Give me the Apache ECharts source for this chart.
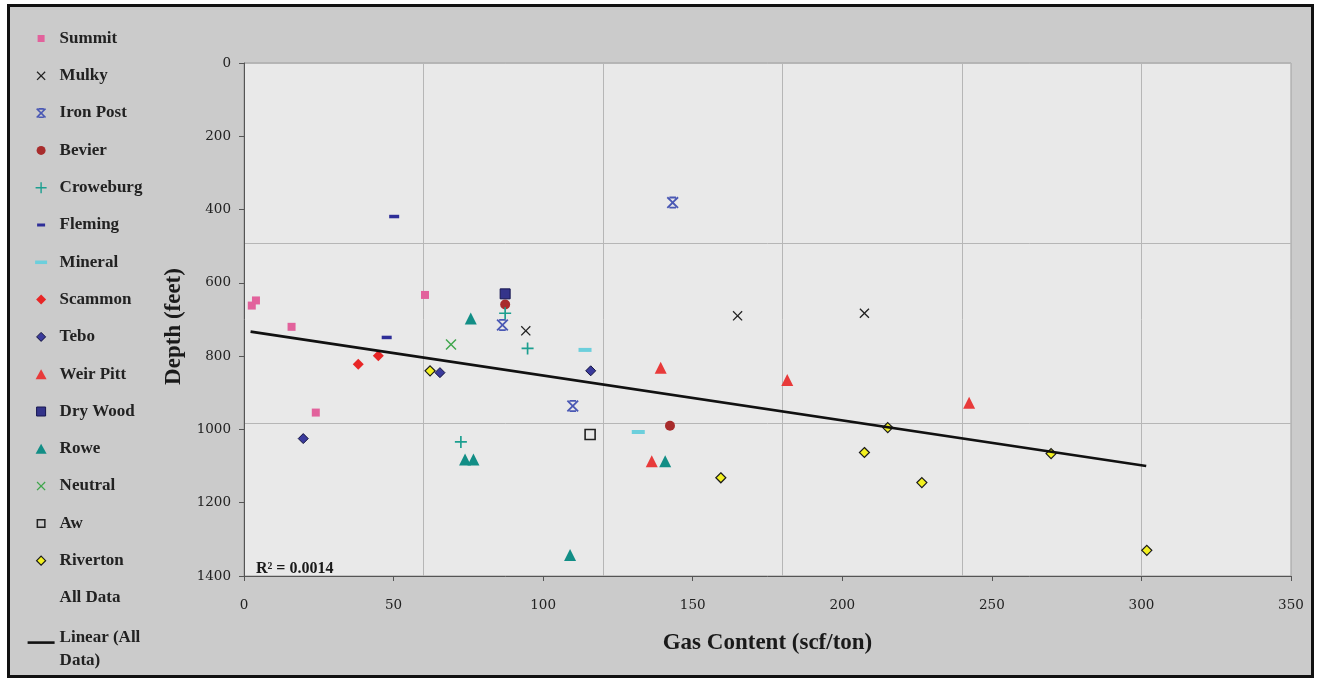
<!DOCTYPE html>
<html><head><meta charset="utf-8">
<script src="https://cdn.jsdelivr.net/npm/echarts@6/dist/echarts.min.js"></script>
<style>html,body{margin:0;padding:0;background:#fff}#c{width:1320px;height:678px}</style>
</head><body><div id="c"></div><script>
// ---- data (gas content scf/ton, depth feet) ----
const summit    = [[2.6,662],[4.0,648],[15.9,720],[24.0,954],[60.5,633]];
const mulky     = [[94.2,731],[165.0,690],[207.4,683]];
const ironPost  = [[86.4,715],[109.9,936],[143.3,381]];
const bevier    = [[87.3,659],[142.4,990]];
const croweburg = [[72.5,1034],[87.3,683],[94.8,779]];
const fleming   = [[47.7,749],[50.2,419]];
const mineral   = [[114.0,783],[131.8,1007]];
const scammon   = [[38.2,822],[44.9,799]];
const tebo      = [[19.8,1025],[65.5,845],[115.9,840]];
const weirPitt  = [[136.3,1087],[139.3,832],[181.6,865],[242.4,927]];
const dryWood   = [[87.3,630]];
const rowe      = [[73.9,1082],[76.7,1082],[75.8,697],[109.0,1343],[140.8,1087]];
const neutral   = [[69.2,768]];
const aw        = [[115.7,1014]];
const riverton  = [[62.2,840],[159.4,1132],[207.4,1063],[215.2,995],[226.6,1145],[269.8,1066],[301.8,1330]];
const trendLine = [[2.2,733],[301.6,1100]];
const xRange = [0, 350], xStep = 50;
const yRange = [0, 1400], yStep = 200;
const rSquared = 'R² = 0.0014';

// ---- shape helpers ----
function f(v){return (+v).toFixed(2);}
function P(pts){return 'M'+pts.map(p=>f(p[0])+' '+f(p[1])).join(' L')+' Z';}
function xShape(cx,cy,s,t){const h=s/2,d=t*0.7071;return P([[cx-h,cy-h+d],[cx-h+d,cy-h],[cx,cy-d],[cx+h-d,cy-h],[cx+h,cy-h+d],[cx+d,cy],[cx+h,cy+h-d],[cx+h-d,cy+h],[cx,cy+d],[cx-h+d,cy+h],[cx-h,cy+h-d],[cx-d,cy]]);}
function plusShape(cx,cy,s,t){const h=s/2,a=t/2;return P([[cx-a,cy-h],[cx+a,cy-h],[cx+a,cy-a],[cx+h,cy-a],[cx+h,cy+a],[cx+a,cy+a],[cx+a,cy+h],[cx-a,cy+h],[cx-a,cy+a],[cx-h,cy+a],[cx-h,cy-a],[cx-a,cy-a]]);}
function rectShape(cx,cy,w,h){return P([[cx-w/2,cy-h/2],[cx+w/2,cy-h/2],[cx+w/2,cy+h/2],[cx-w/2,cy+h/2]]);}
function starShape(cx,cy,s,t){return xShape(cx,cy,s,t)+' '+rectShape(cx,cy-s/2+t/2,s*0.55,t)+' '+rectShape(cx,cy+s/2-t/2,s*0.55,t);}
function diamondShape(cx,cy,w,h){return P([[cx,cy-h/2],[cx+w/2,cy],[cx,cy+h/2],[cx-w/2,cy]]);}
function triShape(cx,cy,w,h){return P([[cx,cy-h/2],[cx+w/2,cy+h/2],[cx-w/2,cy+h/2]]);}
function circleShape(cx,cy,r){return 'M'+f(cx-r)+' '+f(cy)+' A'+r+' '+r+' 0 1 0 '+f(cx+r)+' '+f(cy)+' A'+r+' '+r+' 0 1 0 '+f(cx-r)+' '+f(cy)+' Z';}
function frameShape(cx,cy,s,t){const o=s/2,i=s/2-t;return P([[cx-o,cy-o],[cx+o,cy-o],[cx+o,cy+o],[cx-o,cy+o]])+' '+P([[cx-i,cy-i],[cx-i,cy+i],[cx+i,cy+i],[cx+i,cy-i]]);}
const LEG = body => 'path://M0 0 M27 16 ' + body;
const LC = [13.5, 8];

const serif = 'Liberation Serif';

const defs = [
  {name:'Summit', data:summit, symbol:'rect', size:8, color:'#e2629c',
   icon:LEG(rectShape(LC[0],LC[1],7,7))},
  {name:'Mulky', data:mulky, symbol:'path://'+xShape(5,5,10,1.3), size:10, color:'#222222',
   icon:LEG(xShape(LC[0],LC[1],9,1.3))},
  {name:'Iron Post', data:ironPost, symbol:'path://'+starShape(5,5,10,1.5), size:12, color:'#4a58b4',
   icon:LEG(starShape(LC[0],LC[1],10,1.6))},
  {name:'Bevier', data:bevier, symbol:'circle', size:10, color:'#a82c2c',
   icon:LEG(circleShape(LC[0],LC[1],4.5))},
  {name:'Croweburg', data:croweburg, symbol:'path://'+plusShape(5,5,10,1.4), size:12, color:'#1c9f90',
   icon:LEG(plusShape(LC[0],LC[1],11,1.4))},
  {name:'Fleming', data:fleming, symbol:'rect', size:[10,3.5], color:'#2e2e98',
   icon:LEG(rectShape(LC[0],LC[1],8,3))},
  {name:'Mineral', data:mineral, symbol:'rect', size:[13,4], color:'#6ccfdc',
   icon:LEG(rectShape(LC[0],LC[1],12,3.5))},
  {name:'Scammon', data:scammon, symbol:'diamond', size:11, color:'#e82626',
   icon:LEG(diamondShape(LC[0],LC[1],10,10))},
  {name:'Tebo', data:tebo, symbol:'diamond', size:10, color:'#3a3a9c', border:'#12123e', bw:1,
   icon:LEG(diamondShape(LC[0],LC[1],9,9))},
  {name:'Weir Pitt', data:weirPitt, symbol:'triangle', size:12, color:'#e83a3a',
   icon:LEG(triShape(LC[0],LC[1],11,10))},
  {name:'Dry Wood', data:dryWood, symbol:'rect', size:10, color:'#34348a', border:'#161650', bw:1,
   icon:LEG(rectShape(LC[0],LC[1],9,9))},
  {name:'Rowe', data:rowe, symbol:'triangle', size:12, color:'#128e86',
   icon:LEG(triShape(LC[0],LC[1],11,10))},
  {name:'Neutral', data:neutral, symbol:'path://'+xShape(5,5,10,1.3), size:11, color:'#3fa64c',
   icon:LEG(xShape(LC[0],LC[1],9,1.3))},
  {name:'Aw', data:aw, symbol:'rect', size:10, color:'rgba(255,255,255,0)', border:'#222222', bw:1.6, legendColor:'#222222',
   icon:LEG(frameShape(LC[0],LC[1],9,1.5))},
  {name:'Riverton', data:riverton, symbol:'diamond', size:10, color:'#f2f020', border:'#1a1a1a', bw:1.2,
   icon:LEG(diamondShape(LC[0],LC[1],9,9))}
];

const series = defs.map(d => ({
  name:d.name, type:'scatter', data:d.data, symbol:d.symbol, symbolSize:d.size,
  itemStyle:{color:d.color, borderColor:d.border||d.color, borderWidth:d.bw||0, opacity:1},
  emphasis:{disabled:true}, z:3
}));
let allData = [];
defs.forEach(d => { allData = allData.concat(d.data); });
series.push({name:'All Data', type:'scatter', data:allData, symbol:'none', symbolSize:0, silent:true,
  itemStyle:{color:'rgba(0,0,0,0)'}});
series.push({name:'Linear (All Data)', type:'line', data:trendLine, symbol:'none', silent:true,
  lineStyle:{color:'#111111', width:2.6}, itemStyle:{color:'#111111'}, z:5});

const legendData = defs.map(d => ({
  name:d.name, icon:d.icon,
  itemStyle:{color:d.legendColor||d.color, borderColor:d.border||d.color, borderWidth:d.legendColor?0:(d.bw||0)}
}));
legendData.push({name:'All Data', icon:LEG(''), itemStyle:{color:'rgba(0,0,0,0)', borderWidth:0}});
legendData.push({name:'Linear (All Data)', icon:LEG('M0 0 L27 0 L27 2.6 L0 2.6 Z'),
  itemStyle:{color:'#111111', borderWidth:0}, textStyle:{lineHeight:23}});

const chart = echarts.init(document.getElementById('c'));
chart.setOption({
  backgroundColor:'#ffffff',
  animation:false,
  graphic:[
    {type:'rect', z:-10, shape:{x:8.5, y:5.5, width:1304, height:671},
     style:{fill:'#cbcbcb', stroke:'#111111', lineWidth:3}},
    {type:'text', z:10, x:256, y:569,
     style:{text:rSquared, font:'bold 16px "Liberation Serif"', fill:'#1a1a1a', verticalAlign:'middle'}}
  ],
  legend:{
    orient:'vertical', left:27, top:29.5, height:700, padding:0,
    itemWidth:27, itemHeight:16, itemGap:19.3, selectedMode:false,
    textStyle:{fontFamily:serif, fontWeight:'bold', fontSize:17, color:'#222222', lineHeight:18},
    formatter: n => n === 'Linear (All Data)' ? 'Linear (All\nData)' : n,
    data:legendData
  },
  grid:{left:244, top:63, width:1047, height:513, show:true, backgroundColor:'#e9e9e9',
        borderColor:'#9c9c9c', borderWidth:1, containLabel:false},
  xAxis:[
    {type:'value', min:xRange[0], max:xRange[1], interval:xStep, position:'bottom',
     axisLine:{onZero:false, lineStyle:{color:'#555555', width:1}},
     axisTick:{show:true, inside:false, length:5, lineStyle:{color:'#555555'}},
     axisLabel:{fontFamily:'DejaVu Serif', fontSize:13.5, color:'#222222', margin:22, formatter:v => String(v)},
     splitLine:{show:false},
     name:'Gas Content (scf/ton)', nameLocation:'middle', nameGap:56,
     nameTextStyle:{fontFamily:serif, fontWeight:'bold', fontSize:23, color:'#1a1a1a'}},
    {type:'value', min:xRange[0], max:xRange[1], interval:60, position:'top',
     axisLine:{show:false}, axisTick:{show:false}, axisLabel:{show:false},
     splitLine:{show:true, lineStyle:{color:'#b6b6b6', width:1}}}
  ],
  yAxis:[
    {type:'value', min:yRange[0], max:yRange[1], interval:yStep, inverse:true, position:'left',
     axisLine:{onZero:false, lineStyle:{color:'#555555', width:1}},
     axisTick:{show:true, inside:false, length:5, lineStyle:{color:'#555555'}},
     axisLabel:{fontFamily:'DejaVu Serif', fontSize:13.5, color:'#222222', margin:13, formatter:v => String(v)},
     splitLine:{show:false},
     name:'Depth (feet)', nameLocation:'middle', nameGap:46,
     nameTextStyle:{fontFamily:serif, fontWeight:'bold', fontSize:23, color:'#1a1a1a', padding:[0,14,0,0]}},
    {type:'value', min:yRange[0], max:yRange[1], interval:492, inverse:true, position:'right',
     axisLine:{show:false}, axisTick:{show:false}, axisLabel:{show:false},
     splitLine:{show:true, lineStyle:{color:'#b6b6b6', width:1}}}
  ],
  series:series
});
</script></body></html>
